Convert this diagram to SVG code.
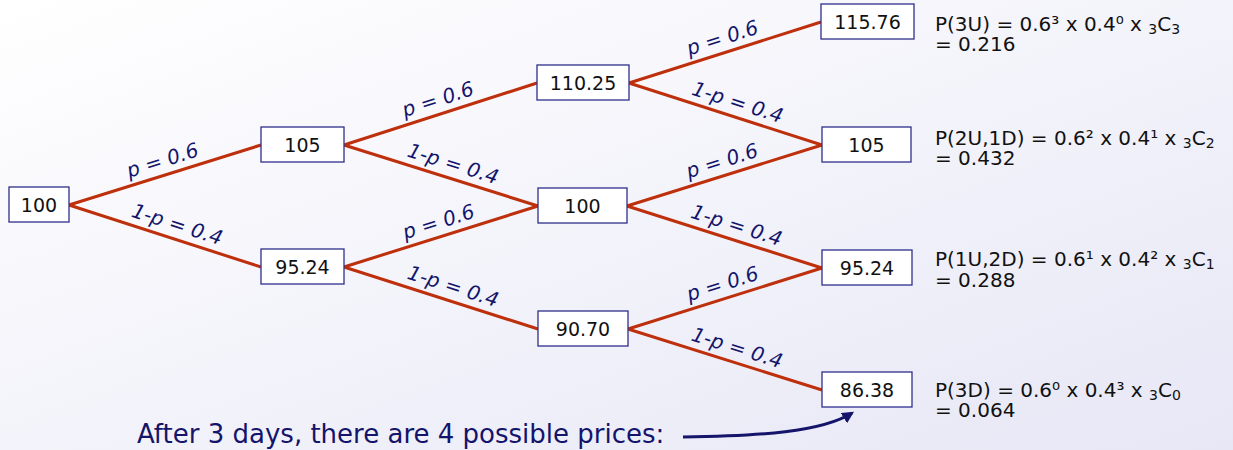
<svg xmlns="http://www.w3.org/2000/svg" width="1233" height="450" viewBox="0 0 1233 450">
<defs>
<linearGradient id="bg" x1="0" y1="0" x2="1" y2="1">
<stop offset="0" stop-color="#ffffff"/>
<stop offset="1" stop-color="#e7e7f6"/>
</linearGradient>
<marker id="ah" viewBox="0 0 10 10" refX="8" refY="5" markerWidth="4" markerHeight="4" orient="auto" markerUnits="strokeWidth">
<path d="M0,0 L10,5 L0,10 Z" fill="#14146b"/>
</marker>
<style>
.box{fill:#ffffff;stroke:#2e2e8c;stroke-width:1.3}
.nt{font-family:"DejaVu Sans","Verdana",sans-serif;font-size:19px;fill:#111111;text-anchor:middle}
.edge{stroke:#be2f0c;stroke-width:3;fill:none}
.lbl{font-family:"DejaVu Sans","Verdana",sans-serif;font-size:20px;font-style:italic;fill:#14146b;text-anchor:middle}
.f{font-family:"DejaVu Sans","Verdana",sans-serif;font-size:20px;fill:#111111}
.s{font-size:14px}
.note{font-family:"DejaVu Sans","Verdana",sans-serif;font-size:26px;fill:#14146b}
</style>
</defs>
<rect x="0" y="0" width="1233" height="450" fill="url(#bg)"/>

<g id="connectors">
<line class="edge" x1="69" y1="205" x2="261" y2="145"/>
<line class="edge" x1="69" y1="205" x2="261" y2="267"/>
<line class="edge" x1="344" y1="145" x2="537" y2="83"/>
<line class="edge" x1="344" y1="145" x2="538" y2="206"/>
<line class="edge" x1="344" y1="267" x2="538" y2="206"/>
<line class="edge" x1="344" y1="267" x2="538" y2="329"/>
<line class="edge" x1="629" y1="83" x2="821" y2="22"/>
<line class="edge" x1="629" y1="83" x2="822" y2="145"/>
<line class="edge" x1="627" y1="206" x2="822" y2="145"/>
<line class="edge" x1="627" y1="206" x2="822" y2="268"/>
<line class="edge" x1="628" y1="329" x2="822" y2="268"/>
<line class="edge" x1="628" y1="329" x2="822" y2="390"/>
<path d="M683,437 C760,436 822,432 852,413" fill="none" stroke="#14146b" stroke-width="3" marker-end="url(#ah)"/>
</g>

<g id="edge-labels">
<text class="lbl" transform="translate(165,175) rotate(-17.4)" x="2" y="-8">p = 0.6</text>
<text class="lbl" transform="translate(165,236) rotate(17.9)" x="8" y="-8">1-p = 0.4</text>
<text class="lbl" transform="translate(440.5,114) rotate(-17.8)" x="2" y="-8">p = 0.6</text>
<text class="lbl" transform="translate(441,175.5) rotate(17.45)" x="8" y="-8">1-p = 0.4</text>
<text class="lbl" transform="translate(441,236.5) rotate(-17.45)" x="2" y="-8">p = 0.6</text>
<text class="lbl" transform="translate(441,298) rotate(17.7)" x="8" y="-8">1-p = 0.4</text>
<text class="lbl" transform="translate(725,52.5) rotate(-17.6)" x="2" y="-8">p = 0.6</text>
<text class="lbl" transform="translate(725.5,114) rotate(17.8)" x="8" y="-8">1-p = 0.4</text>
<text class="lbl" transform="translate(724.5,175.5) rotate(-17.4)" x="2" y="-8">p = 0.6</text>
<text class="lbl" transform="translate(724.5,237) rotate(17.6)" x="8" y="-8">1-p = 0.4</text>
<text class="lbl" transform="translate(725,298.5) rotate(-17.45)" x="2" y="-8">p = 0.6</text>
<text class="lbl" transform="translate(725,359.5) rotate(17.45)" x="8" y="-8">1-p = 0.4</text>
</g>

<g id="n0"><rect class="box" x="9" y="187" width="60" height="35"/><text class="nt" x="39" y="212">100</text></g>
<g id="n1u"><rect class="box" x="261" y="127" width="83" height="35"/><text class="nt" x="302.5" y="152">105</text></g>
<g id="n1d"><rect class="box" x="261" y="249" width="83" height="35"/><text class="nt" x="302.5" y="274">95.24</text></g>
<g id="n2u"><rect class="box" x="537" y="65" width="92" height="35"/><text class="nt" x="583" y="90">110.25</text></g>
<g id="n2m"><rect class="box" x="538" y="188" width="89" height="35"/><text class="nt" x="582.5" y="213">100</text></g>
<g id="n2d"><rect class="box" x="538" y="311" width="90" height="35"/><text class="nt" x="583" y="336">90.70</text></g>
<g id="n3a"><rect class="box" x="821" y="4" width="93" height="35"/><text class="nt" x="867.5" y="29">115.76</text></g>
<g id="n3b"><rect class="box" x="822" y="127" width="89" height="35"/><text class="nt" x="866.5" y="152">105</text></g>
<g id="n3c"><rect class="box" x="822" y="250" width="90" height="35"/><text class="nt" x="867" y="275">95.24</text></g>
<g id="n3d"><rect class="box" x="822" y="372" width="90" height="35"/><text class="nt" x="867" y="397">86.38</text></g>

<g id="formula-3u"><text class="f" x="935" y="31">P(3U) = 0.6³ x 0.4⁰ x <tspan class="s" dy="3">3</tspan><tspan dy="-3">C</tspan><tspan class="s" dy="3">3</tspan></text><text class="f" x="935" y="51">= 0.216</text></g>
<g id="formula-2u1d"><text class="f" x="935" y="145">P(2U,1D) = 0.6² x 0.4¹ x <tspan class="s" dy="3">3</tspan><tspan dy="-3">C</tspan><tspan class="s" dy="3">2</tspan></text><text class="f" x="935" y="165">= 0.432</text></g>
<g id="formula-1u2d"><text class="f" x="935" y="266">P(1U,2D) = 0.6¹ x 0.4² x <tspan class="s" dy="3">3</tspan><tspan dy="-3">C</tspan><tspan class="s" dy="3">1</tspan></text><text class="f" x="935" y="287">= 0.288</text></g>
<g id="formula-3d"><text class="f" x="935" y="397">P(3D) = 0.6⁰ x 0.4³ x <tspan class="s" dy="3">3</tspan><tspan dy="-3">C</tspan><tspan class="s" dy="3">0</tspan></text><text class="f" x="935" y="417">= 0.064</text></g>

<g id="note"><text class="note" x="137" y="443">After 3 days, there are 4 possible prices:</text></g>
</svg>
